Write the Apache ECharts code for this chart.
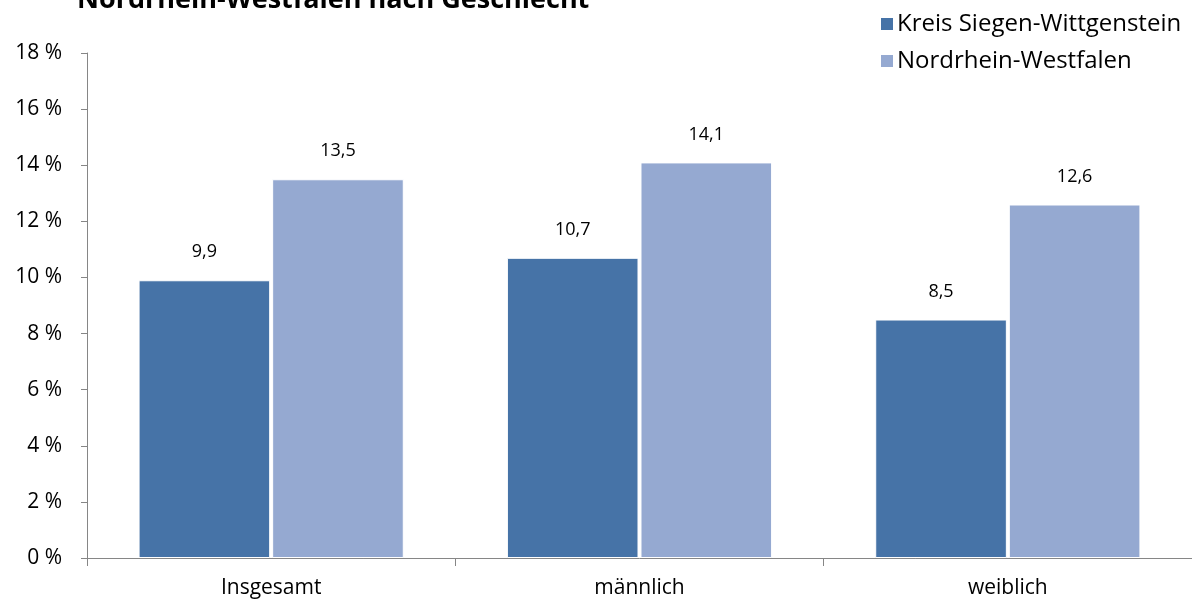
<!DOCTYPE html>
<html><head><meta charset="utf-8">
<script src="https://cdn.jsdelivr.net/npm/echarts@6/dist/echarts.min.js"></script>
<style>html,body{margin:0;padding:0;background:#fff}#c{width:1192px;height:601px}</style>
</head><body><div id="c"></div>
<script>
const categories = ['Insgesamt', 'männlich', 'weiblich'];
const seriesNames = ['Kreis Siegen-Wittgenstein', 'Nordrhein-Westfalen'];
const kreisValues = [9.9, 10.7, 8.5];
const nrwValues = [13.5, 14.1, 12.6];
const titleText = 'Nordrhein-Westfalen nach Geschlecht';

const font = '"Open Sans", "Noto Sans", sans-serif';
const chart = echarts.init(document.getElementById('c'));
const labelFmt = p => String(p.value).replace('.', ',');
chart.setOption({
  animation: false,
  title: { text: titleText, left: 72, top: -18,
    textStyle: { fontFamily: font, fontWeight: 'bold', fontSize: 27, color: '#000' } },
  legend: { orient: 'vertical', left: 874, top: 7, itemWidth: 14, itemHeight: 14, itemGap: 13,
    icon: 'rect', textStyle: { fontFamily: font, fontSize: 24, color: '#000', padding: [0,0,0,-2] },
    data: seriesNames },
  grid: { left: 87, right: -5, top: 53, bottom: 43, containLabel: false },
  xAxis: { type: 'category', data: categories,
    axisLine: { lineStyle: { color: '#868686' } },
    axisTick: { show: true, length: 8, lineStyle: { color: '#868686' } },
    axisLabel: { fontFamily: font, fontSize: 21, color: '#000', margin: 20 } },
  yAxis: { type: 'value', min: 0, max: 18, interval: 2,
    axisLine: { show: true, lineStyle: { color: '#868686' } },
    axisTick: { show: true, length: 6, lineStyle: { color: '#868686' } },
    splitLine: { show: false },
    axisLabel: { fontFamily: font, fontSize: 21, color: '#000', margin: 25, formatter: v => v + ' %' } },
  series: [
    { name: seriesNames[0], type: 'bar', data: kreisValues, barGap: '1.5%', barCategoryGap: '28%',
      itemStyle: { color: '#4673A7', borderColor: '#fff', borderWidth: 1 },
      label: { show: true, position: 'top', distance: 19, fontFamily: font, fontSize: 18, color: '#000', formatter: labelFmt } },
    { name: seriesNames[1], type: 'bar', data: nrwValues,
      itemStyle: { color: '#95A9D1', borderColor: '#fff', borderWidth: 1 },
      label: { show: true, position: 'top', distance: 19, fontFamily: font, fontSize: 18, color: '#000', formatter: labelFmt } }
  ]
});
</script></body></html>
